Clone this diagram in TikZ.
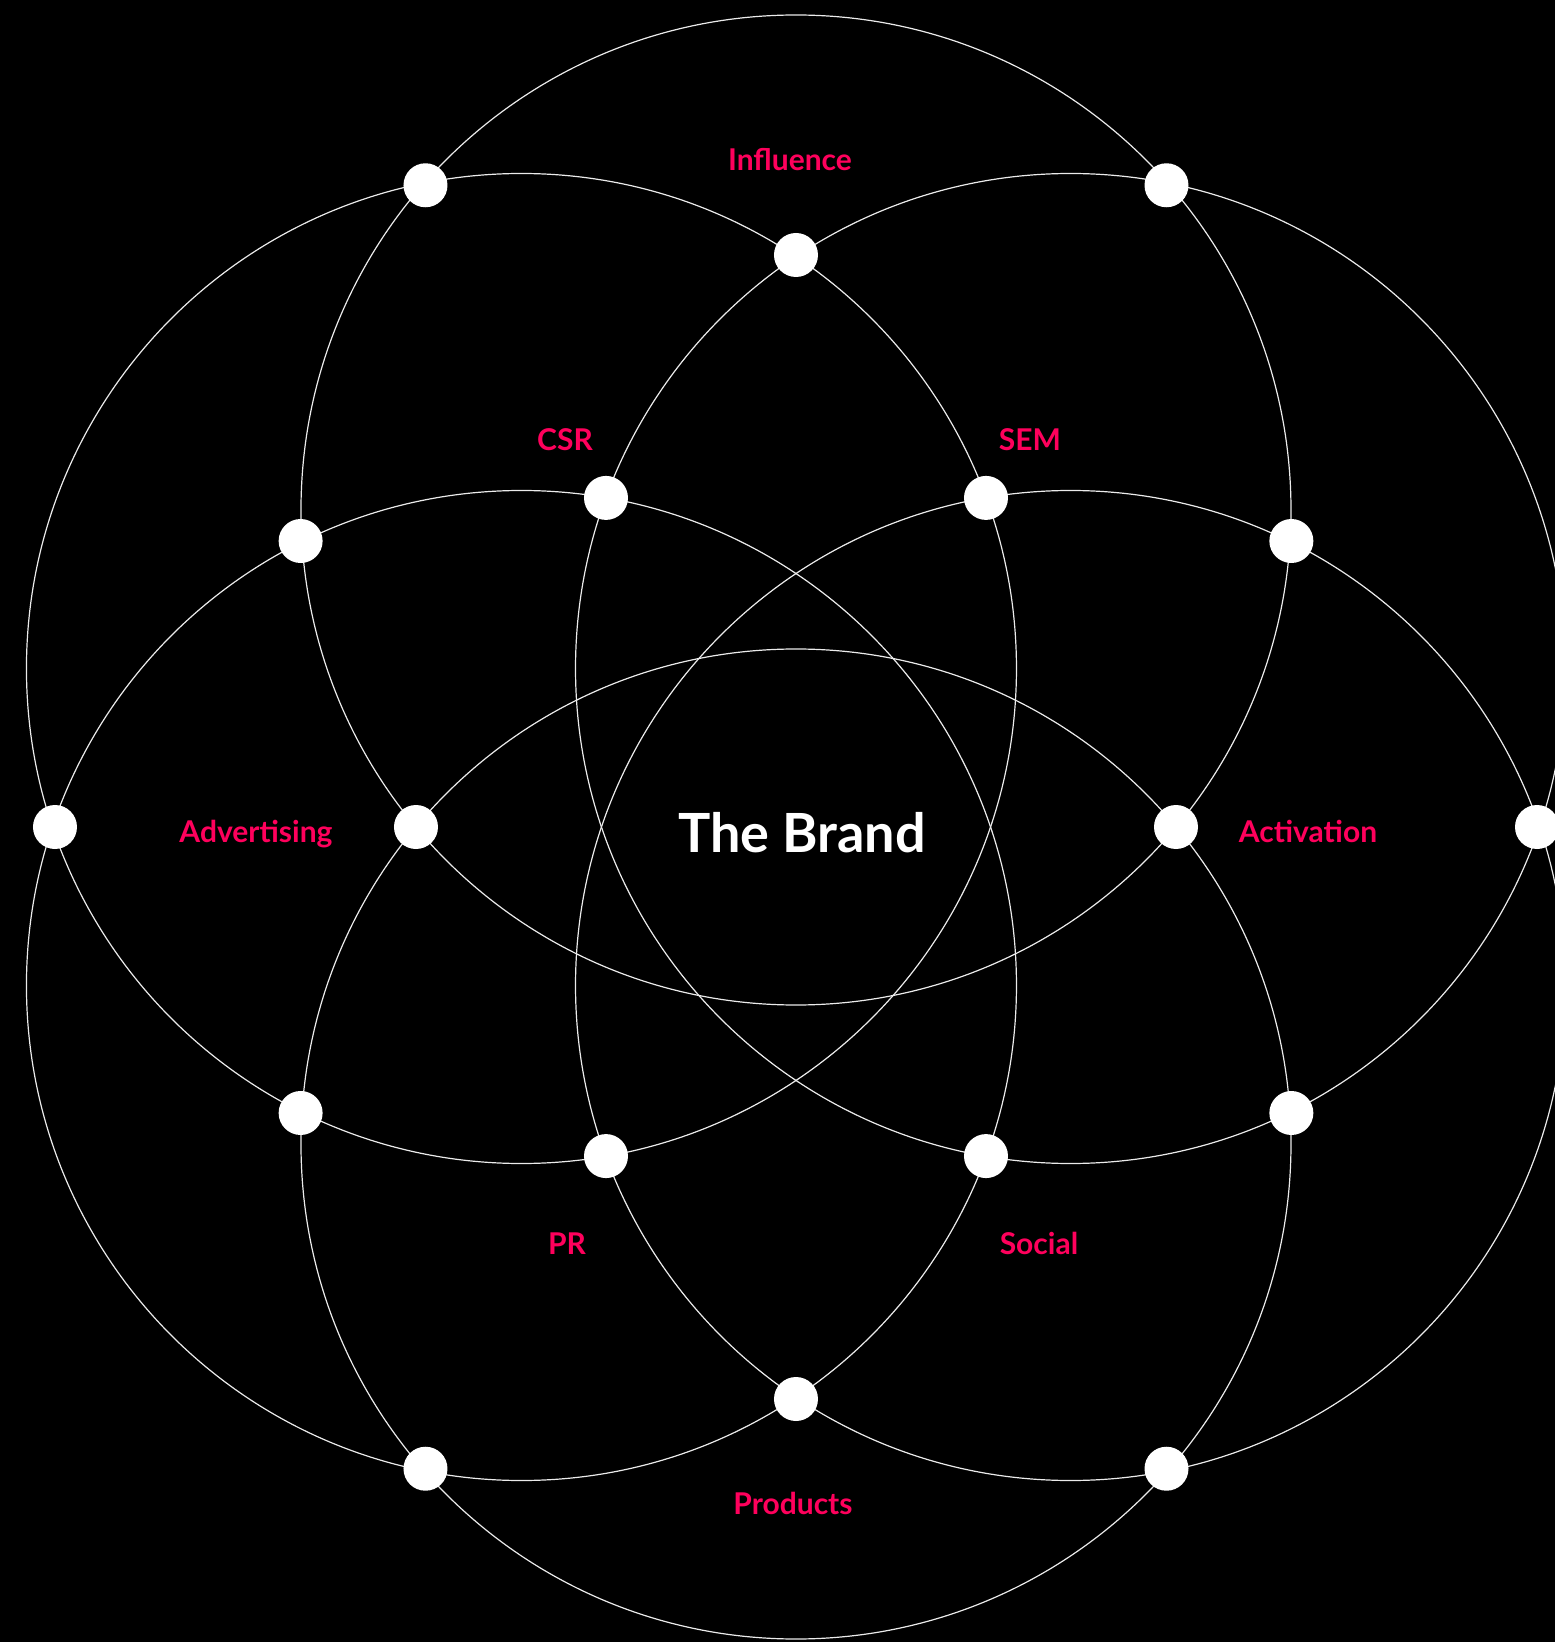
\documentclass[tikz,border=0pt]{standalone}
\usepackage{fontspec}
\setmainfont{Lato}
\definecolor{brandpink}{RGB}{255,0,92}

\begin{document}
\begin{tikzpicture}[
        x=1pt, y=1pt,
        ring/.style={draw=white!92!black, line width=1.2pt},
        dot/.style={circle, fill=white, minimum size=44pt, inner sep=0pt},
        channel/.style={text=brandpink, font=\bfseries\fontsize{30}{34}\selectfont, text height=21.6pt, text depth=0pt},
        brand/.style={text=white, font=\bfseries\fontsize{54}{60}\selectfont, text height=39pt, text depth=0pt}
    ]
        \fill[black] (-796,-815) rectangle (759,827);
        \useasboundingbox (-796,-815) rectangle (759,827);
        % six rings round the centre
        \foreach \a in {30,90,...,330}
            \draw[ring] (\a:317pt) circle (495pt);
        % crossing points
        \foreach \a [count=\i] in {0,60,...,300} {
            \node[dot] (inner\i) at (\a:380pt) {};
            \node[dot] (outer\i) at (\a:741pt) {};
        }
        \foreach \a [count=\i] in {30,90,...,330}
            \node[dot] (mid\i) at (\a:572pt) {};
        % labels
        \node[brand] (brand) at (6,-6) {The Brand};
        \node[channel] (influence) at (-6,667) {Influence};
        \node[channel] (csr) at (-231,387) {CSR};
        \node[channel] (sem) at (234,387) {SEM};
        \node[channel] (advertising) at (-540,-5) {Advertising};
        \node[channel] (activation) at (512,-5) {Activation};
        \node[channel] (pr) at (-229,-417) {PR};
        \node[channel] (social) at (243,-417) {Social};
        \node[channel] (products) at (-3,-677) {Products};
    \end{tikzpicture}
\end{document}
